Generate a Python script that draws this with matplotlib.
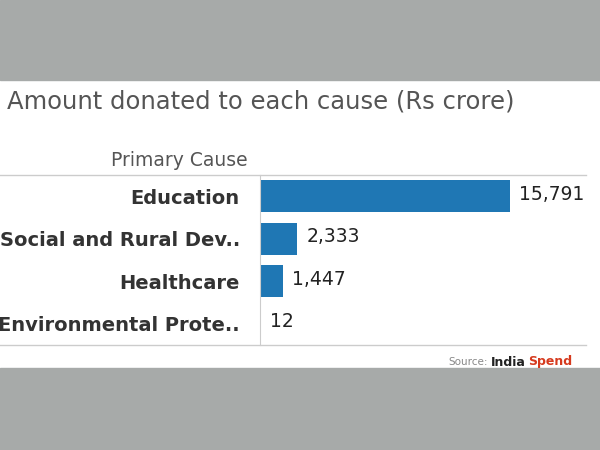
import matplotlib
matplotlib.use("Agg")
import matplotlib.pyplot as plt
from matplotlib.patches import Rectangle

categories = ["Education", "Social and Rural Dev..", "Healthcare", "Environmental Prote.."]
values = [15791, 2333, 1447, 12]

fig = plt.figure(figsize=(6, 4.5), dpi=100)
fig.patch.set_facecolor("white")
gray = "#a7aaa9"
fig.patches.append(Rectangle((0, 1 - 80/450), 1, 80/450, transform=fig.transFigure, color=gray, zorder=0))
fig.patches.append(Rectangle((0, 0), 1, 82/450, transform=fig.transFigure, color=gray, zorder=0))

ax = fig.add_axes([260/600, 105/450, 340/600, 170/450])
ax.barh(range(len(values)), values, height=0.75, color="#1f77b4")
ax.set_ylim(len(values) - 0.5, -0.5)
ax.set_xlim(0, 15791 * 340 / 250)
for i, v in enumerate(values):
    ax.text(v + 600, i - 0.05, f"{v:,}", va="center", ha="left", fontsize=13.5, color="#222")
ax.set_yticks(range(len(values)))
ax.set_yticklabels(categories, fontsize=14, fontweight="bold", color="#333")
ax.tick_params(left=False, bottom=False, labelbottom=False, pad=11)
for s in ["top", "right", "bottom"]:
    ax.spines[s].set_visible(False)
ax.spines["left"].set_color("#ccc")

for y in (175, 345):
    fig.add_artist(plt.Line2D([0, 586/600], [1 - y/450] * 2, color="#ccc", lw=1))

fig.text(7/600, 1 - 102/450, "Amount donated to each cause (Rs crore)", fontsize=17.5, color="#555", va="center")
fig.text(248/600, 1 - 160/450, "Primary Cause", fontsize=13.5, color="#555", va="center", ha="right")
fig.text(488/600, 1 - 362/450, "Source:", fontsize=7.5, color="#888", va="center", ha="right")
fig.text(491/600, 1 - 362/450, "India", fontsize=9, color="#222", fontweight="bold", va="center", ha="left")
fig.text(528/600, 1 - 362/450, "Spend", fontsize=9, color="#d63a1e", fontweight="bold", va="center", ha="left")

fig.savefig("out.png", dpi=100)
